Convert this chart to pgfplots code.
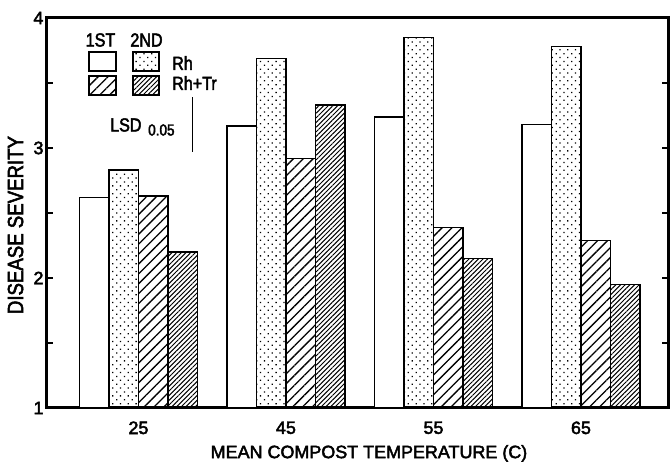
\documentclass[border=0pt]{standalone}
\usepackage{fontspec}
\setmainfont{Liberation Sans}[FakeBold=2.5]
\newfontfamily\condfont{Liberation Sans}[FakeBold=2.5, FakeStretch=0.85]
\usepackage{pgfplots}
\pgfplotsset{compat=1.18}
\usetikzlibrary{patterns.meta}
\tikzset{
  pdots/.style={pattern={Dots[radius=0.9bp, distance=5.5bp, angle=45]}},
  phatch/.style={pattern={Lines[angle=45, distance=7bp, line width=1.3bp]}},
  pdense/.style={pattern={Lines[angle=45, distance=3.3bp, line width=1bp]}},
}
\begin{document}
\begin{tikzpicture}[x=1bp,y=1bp]
\path[use as bounding box] (-47,-54) rectangle (625,408);
\begin{axis}[
  at={(0,0)}, anchor=south west,
  scale only axis, width=621bp, height=390bp,
  xmin=-0.62, xmax=3.59, ymin=1, ymax=4,
  xtick={0,1,2,3}, xticklabels={25,45,55,65},
  xtick style={draw=none},
  ytick={1,2,3,4}, minor ytick={1.5,2.5,3.5},
  ytick pos=both, tick align=inside,
  major tick length=6bp, minor tick length=6bp,
  every tick/.style={black, line width=1.2bp},
  axis line style={line width=3bp},
  /pgf/number format/assume math mode=true,
  ticklabel style={font=\fontsize{18}{20}\selectfont},
  xticklabel style={yshift=-10bp},
  xlabel={MEAN COMPOST TEMPERATURE (C)},
  ylabel={DISEASE SEVERITY},
  xlabel style={font=\fontsize{18}{20}\selectfont, at={(axis description cs:0.5185,-0.1167)}, anchor=center},
  ylabel style={font=\condfont\fontsize{22}{24}\selectfont, at={(axis description cs:-0.0507,0.469)}, anchor=center},
]
\addplot[ybar, bar width=0.2, bar shift=-0.3, draw=black, line width=1.5bp, fill=white]
  coordinates {(0,2.62) (1,3.17) (2,3.24) (3,3.18)};
\addplot[ybar, bar width=0.2, bar shift=-0.1, draw=black, line width=1.5bp, pdots]
  coordinates {(0,2.83) (1,3.69) (2,3.85) (3,3.78)};
\addplot[ybar, bar width=0.2, bar shift=0.1, draw=black, line width=1.5bp, phatch]
  coordinates {(0,2.63) (1,2.92) (2,2.39) (3,2.29)};
\addplot[ybar, bar width=0.2, bar shift=0.3, draw=black, line width=1.5bp, pdense]
  coordinates {(0,2.20) (1,3.33) (2,2.15) (3,1.95)};
% LSD 0.05 bar
\addplot[black, line width=1.5bp, mark=none] coordinates {(0.368,2.97) (0.368,3.39)};
\end{axis}
% legend
\node[font=\condfont\fontsize{19}{21}\selectfont, inner sep=0pt] at (53.5,368) {1ST};
\node[font=\condfont\fontsize{19}{21}\selectfont, inner sep=0pt] at (99.5,368) {2ND};
\draw[line width=1.5bp, fill=white] (42,337) rectangle (69,356);
\draw[line width=1.5bp, pdots] (86,337) rectangle (112,356);
\draw[line width=1.5bp, phatch] (42,313) rectangle (69,332);
\draw[line width=1.5bp, pdense] (86,313) rectangle (112,332);
\node[font=\condfont\fontsize{19}{21}\selectfont, inner sep=0pt, anchor=west] at (125,345) {Rh};
\node[font=\condfont\fontsize{19}{21}\selectfont, inner sep=0pt, anchor=west] at (125,325) {Rh+Tr};
\node[font=\condfont\fontsize{19}{21}\selectfont, inner sep=0pt, anchor=west] at (63,283) {LSD};
\node[font=\condfont\fontsize{16}{18}\selectfont, inner sep=0pt, anchor=west] at (101,278) {0.05};
\end{tikzpicture}
\end{document}
